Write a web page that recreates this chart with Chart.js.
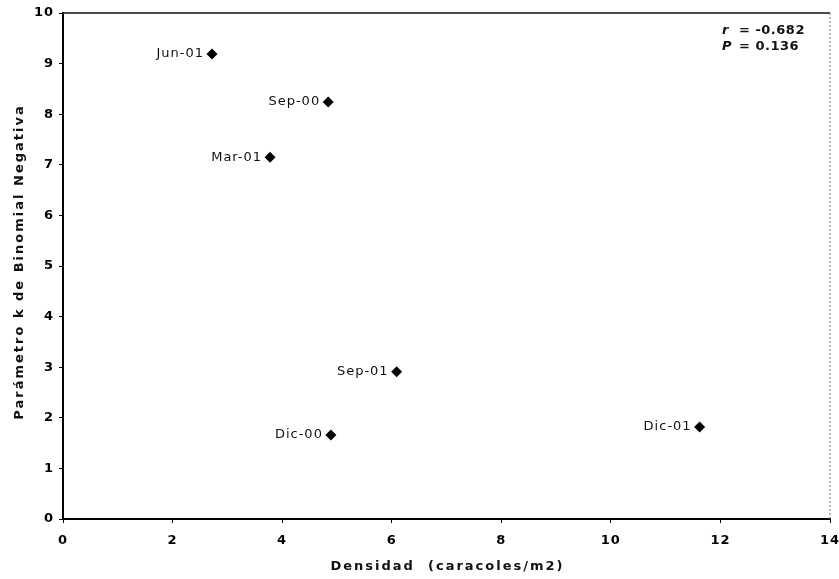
<!DOCTYPE html>
<html>
<head>
<meta charset="utf-8">
<script src="https://cdn.jsdelivr.net/npm/chart.js@4/dist/chart.umd.min.js"></script>
<style>
html,body{margin:0;padding:0;background:#fff;}
canvas{display:block;}
</style>
</head>
<body>
<canvas id="c" width="839" height="579"></canvas>
<script>
const pointLabels = ["Jun-01","Sep-00","Mar-01","Sep-01","Dic-00","Dic-01"];
const densidad = [2.72, 4.84, 3.78, 6.09, 4.89, 11.62];
const kValues = [9.19, 8.24, 7.15, 2.91, 1.66, 1.82];
const xTicks = [0,2,4,6,8,10,12,14];
const yTicks = [0,1,2,3,4,5,6,7,8,9,10];
const statR = "-0.682";
const statP = "0.136";
const xTitle = "Densidad  (caracoles/m2)";
const yTitle = "Parámetro k de Binomial Negativa";

const FONT = "'DejaVu Sans', 'Liberation Sans', Arial, sans-serif";
Chart.defaults.font.family = FONT;
Chart.defaults.font.weight = 700;
Chart.defaults.font.size = 13;
Chart.defaults.color = '#000';

const framePlugin = {
  id: 'frame',
  beforeDraw(chart) {
    chart.ctx.letterSpacing = '1px';
  },
  afterDraw(chart) {
    const {ctx, chartArea: a} = chart;
    ctx.save();
    ctx.strokeStyle = '#111';
    ctx.lineWidth = 1.5;
    ctx.beginPath();
    ctx.moveTo(a.left, a.top);
    ctx.lineTo(a.right, a.top);
    ctx.stroke();
    ctx.strokeStyle = '#777';
    ctx.lineWidth = 1;
    ctx.setLineDash([2,2]);
    ctx.beginPath();
    ctx.moveTo(a.right, a.top);
    ctx.lineTo(a.right, a.bottom);
    ctx.stroke();
    ctx.setLineDash([]);
    // point labels
    const meta = chart.getDatasetMeta(0);
    ctx.fillStyle = '#111';
    ctx.letterSpacing = '1px';
    ctx.font = "13px " + FONT;
    ctx.textAlign = 'right';
    ctx.textBaseline = 'middle';
    meta.data.forEach((pt, i) => {
      ctx.fillText(pointLabels[i], pt.x - 8, pt.y);
    });
    // stats
    ctx.letterSpacing = '0.5px';
    ctx.textAlign = 'left';
    ctx.textBaseline = 'middle';
    ctx.font = "italic bold 13px " + FONT;
    ctx.fillText('r', 722, 31);
    ctx.fillText('P', 722, 47);
    ctx.font = "bold 13px " + FONT;
    ctx.fillText('= ' + statR, 739, 31);
    ctx.fillText('= ' + statP, 739, 47);
    // axis titles
    ctx.letterSpacing = '2px';
    ctx.font = "bold 13px " + FONT;
    ctx.textAlign = 'center';
    ctx.fillText(xTitle, (a.left + a.right) / 2 + 1, 567);
    ctx.translate(20, (a.top + a.bottom) / 2 - 4);
    ctx.rotate(-Math.PI / 2);
    ctx.fillText(yTitle, 0, 0);
    ctx.restore();
  }
};

new Chart(document.getElementById('c'), {
  type: 'scatter',
  data: {
    datasets: [{
      data: densidad.map((x, i) => ({x: x, y: kValues[i]})),
      pointStyle: 'rectRot',
      pointRadius: 5.5,
      pointHoverRadius: 5.5,
      backgroundColor: '#000',
      borderColor: '#000',
      borderWidth: 0
    }]
  },
  options: {
    responsive: false,
    animation: false,
    events: [],
    layout: {padding: {top: 13, right: 9, left: 0, bottom: 0}},
    plugins: {legend: {display: false}, tooltip: {enabled: false}},
    scales: {
      x: {
        type: 'linear', min: 0, max: 14,
        afterBuildTicks: s => { s.ticks = xTicks.map(v => ({value: v})); },
        afterFit: s => { s.height = 60; s.paddingLeft = 0; s.paddingRight = 0; },
        grid: {drawOnChartArea: false, drawTicks: true, tickLength: 4, color: '#000'},
        border: {color: '#000', width: 2},
        ticks: {color: '#000', font: {family: FONT, size: 13, weight: 700}, padding: 10, maxRotation: 0},
        title: {display: false}
      },
      y: {
        type: 'linear', min: 0, max: 10,
        afterBuildTicks: s => { s.ticks = yTicks.map(v => ({value: v})); },
        afterFit: s => { s.width = 63; s.paddingTop = 0; s.paddingBottom = 0; },
        grid: {drawOnChartArea: false, drawTicks: true, tickLength: 4, color: '#000'},
        border: {color: '#000', width: 2},
        ticks: {color: '#000', font: {family: FONT, size: 13, weight: 700}, padding: 5},
        title: {display: false}
      }
    }
  },
  plugins: [framePlugin]
});
</script>
</body>
</html>
